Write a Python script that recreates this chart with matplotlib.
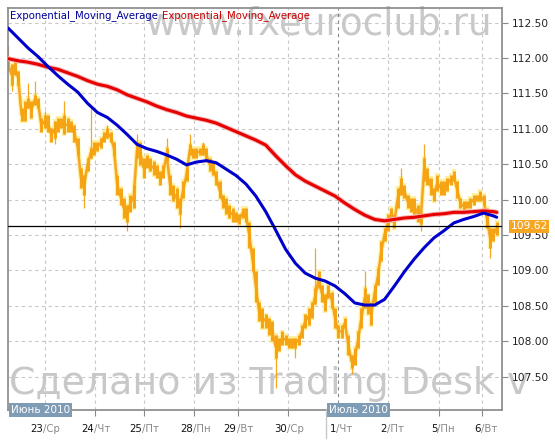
import matplotlib
matplotlib.use("Agg")
import matplotlib.pyplot as plt
import numpy as np

# ---------------- data ----------------
body_high = [
    112.00, 111.91, 111.95, 111.81, 111.29, 111.39, 111.44, 111.39, 111.48, 111.44,
    111.15, 111.20, 111.20, 111.01, 111.11, 111.15, 111.15, 111.20, 111.15, 111.11,
    111.06, 110.87, 110.45, 110.35, 110.59, 110.73, 110.82, 110.82, 110.87, 110.96,
    111.01, 110.96, 110.82, 110.35, 110.16, 110.02, 109.93, 110.07, 110.21,
    110.82, 110.82, 110.59, 110.63, 110.59, 110.54, 110.49, 110.40, 110.49, 110.73,
    110.35, 110.21, 110.16, 110.02, 110.26, 110.45, 110.78, 110.73, 110.73, 110.73,
    110.78, 110.73, 110.59, 110.54, 110.40, 110.26, 110.07, 110.02, 109.93, 109.88,
    109.83, 109.79, 109.88, 109.88, 109.69, 109.32, 108.99, 108.56,
    108.47, 108.38, 108.33, 108.28, 108.09, 108.05, 108.14, 108.09, 108.05, 108.05,
    108.05, 108.09, 108.23, 108.38, 108.47, 108.56, 108.75, 108.99, 108.80, 108.66,
    108.80, 108.70, 108.47, 108.23, 108.23, 108.33, 108.09, 107.81, 107.90, 108.14,
    108.47, 108.75, 108.66, 108.56, 108.80, 109.03, 109.41, 109.60,
    109.79, 109.88, 109.79, 110.16, 110.31, 110.21, 110.07, 110.02, 110.02, 109.93,
    109.83, 110.59, 110.45, 110.31, 110.16, 110.35, 110.26, 110.26, 110.31, 110.35,
    110.40, 110.26, 110.02, 109.98, 109.98, 110.02, 110.07, 110.07, 110.12, 110.07,
    109.88, 109.60, 109.60, 109.69,
]
body_low = [
    111.81, 111.62, 111.76, 111.62, 111.11, 111.11, 111.29, 111.15, 111.34, 111.29,
    110.96, 111.01, 110.96, 110.82, 110.87, 110.96, 111.01, 110.92, 110.96, 110.96,
    110.82, 110.63, 110.16, 110.07, 110.40, 110.59, 110.63, 110.68, 110.73, 110.82,
    110.87, 110.82, 110.63, 110.07, 109.93, 109.74, 109.69, 109.83, 109.88,
    110.59, 110.49, 110.31, 110.45, 110.40, 110.35, 110.31, 110.21, 110.31, 110.54,
    110.07, 109.98, 109.88, 109.79, 110.02, 110.26, 110.63, 110.59, 110.59, 110.63,
    110.63, 110.54, 110.40, 110.35, 110.21, 110.02, 109.88, 109.79, 109.74, 109.69,
    109.69, 109.65, 109.74, 109.69, 109.32, 108.99, 108.56, 108.28,
    108.19, 108.19, 108.09, 108.00, 107.76, 107.86, 107.95, 107.95, 107.90, 107.90,
    107.90, 107.95, 108.05, 108.19, 108.23, 108.33, 108.52, 108.75, 108.56, 108.42,
    108.61, 108.47, 108.19, 108.05, 108.05, 108.19, 107.81, 107.62, 107.67, 107.90,
    108.19, 108.47, 108.38, 108.23, 108.56, 108.80, 109.13, 109.41,
    109.55, 109.69, 109.60, 109.88, 110.07, 110.02, 109.88, 109.83, 109.79, 109.69,
    109.65, 110.26, 110.21, 110.07, 109.98, 110.12, 110.07, 110.07, 110.12, 110.21,
    110.26, 110.02, 109.88, 109.83, 109.88, 109.88, 109.93, 109.98, 109.98, 109.93,
    109.60, 109.32, 109.41, 109.50,
]
spike_bar = [0, 1, 6, 8, 11, 14, 17, 23, 25, 30, 36, 39, 48, 52, 55, 59,
             81, 87, 93, 104, 108, 119, 125, 126, 146]
spike_price = [112.17, 111.53, 111.65, 111.67, 111.25, 110.78, 111.39, 109.88,
               111.29, 111.06, 109.55, 110.92, 110.87, 109.60, 110.92, 110.82,
               107.34, 107.76, 109.32, 107.53, 108.99, 110.45, 109.55, 110.78, 109.18]

ema_bar = list(range(0, 148, 3)) + [148]
ema_fast = [
    112.42, 112.28, 112.14, 112.02, 111.88, 111.75, 111.63, 111.52, 111.36, 111.23,
    111.16, 111.05, 110.92, 110.78, 110.72, 110.68, 110.63, 110.57, 110.49, 110.53,
    110.55, 110.52, 110.43, 110.34, 110.22, 110.05, 109.83, 109.57, 109.30, 109.10,
    108.96, 108.89, 108.85, 108.78, 108.67, 108.54, 108.51, 108.51, 108.59, 108.78,
    108.98, 109.16, 109.32, 109.46, 109.56, 109.67, 109.72, 109.76, 109.81, 109.77,
    109.75,
]
ema_slow = [
    111.99, 111.96, 111.94, 111.91, 111.87, 111.84, 111.79, 111.74, 111.68, 111.63,
    111.60, 111.55, 111.48, 111.43, 111.38, 111.32, 111.27, 111.23, 111.18, 111.15,
    111.12, 111.08, 111.02, 110.96, 110.90, 110.84, 110.77, 110.62, 110.48, 110.35,
    110.26, 110.19, 110.12, 110.05, 109.95, 109.86, 109.78, 109.72, 109.70, 109.72,
    109.74, 109.75, 109.77, 109.79, 109.80, 109.82, 109.82, 109.83, 109.84, 109.83,
    109.82,
]

day_start_bar = [11.1, 26.3, 41.1, 56.3, 69.6, 84.8, 99.9, 115.1, 130.5, 143.6]
day_numbers = ["23", "24", "25", "28", "29", "30", "1", "2", "5", "6"]
day_names = ["Ср", "Чт", "Пт", "Пн", "Вт", "Ср", "Чт", "Пт", "Пн", "Вт"]
month_labels = ["Июнь 2010", "Июль 2010"]
month_start_bar = [-0.1, 96.3]
last_price = 109.62
series_names = ["Exponential_Moving_Average", "Exponential_Moving_Average"]
price_ticks = [107.5, 108.0, 108.5, 109.0, 109.5, 110.0, 110.5, 111.0, 111.5, 112.0, 112.5]

# ---------------- figure ----------------
plt.rcParams["font.family"] = ["DejaVu Sans"]
fig = plt.figure(figsize=(5.55, 4.40), dpi=100)
fig.patch.set_facecolor("white")
ax = fig.add_axes([8 / 555, 30 / 440, 494 / 555, 402 / 440])
ax.set_xlim(-0.1, 149.6)
ax.set_ylim(107.028, 112.706)

GRID = "#c8c8c8"
for yv in price_ticks:
    ax.axhline(yv, color=GRID, lw=0.8, ls=(0, (3, 3)), zorder=0.6)
for d, num in zip(day_start_bar, day_numbers):
    col = "#888888" if num == "1" else GRID
    ax.axvline(d, color=col, lw=0.8, ls=(0, (3, 3)), zorder=0.6)

# watermarks
ax.text(0.279, 0.933, "www.fxeuroclub.ru", transform=ax.transAxes, fontsize=26.8,
        color="#c8c8c8", ha="left", va="baseline", zorder=0.5, clip_on=False)
ax.text(0.002, 0.0398, "Сделано из Trading Desk v", transform=ax.transAxes, fontsize=27.3,
        color="#c8c8c8", ha="left", va="baseline", zorder=0.5, clip_on=False)

# price bars
bars = np.arange(len(body_high))
hi = np.array(body_high)
lo = np.array(body_low)
mid = (hi + lo) / 2
ax.vlines(bars, lo - 0.025, hi + 0.025, color="#fff0a0", lw=3.2, zorder=1.8)
ax.plot(bars, mid, color="#fff0a0", lw=3.4, zorder=1.8)
sb = np.array(spike_bar)
sp = np.array(spike_price)
ax.vlines(sb, np.minimum(lo[sb], sp), np.maximum(hi[sb], sp), color="#f5a623", lw=0.9, zorder=2)
ax.plot(bars, mid, color="#f5a623", lw=1.8, zorder=2)
ax.vlines(bars, lo, hi, color="#f5a313", lw=2.1, zorder=2.1)

# EMAs
ax.plot(ema_bar, ema_slow, color="#f7b4b4", lw=3.6, zorder=2.6, solid_capstyle="round")
ax.plot(ema_bar, ema_slow, color="#e60000", lw=2.2, zorder=2.7, solid_capstyle="round")
ax.plot(ema_bar, ema_fast, color="#0000cc", lw=2.2, zorder=2.8, solid_capstyle="round")

# last price line
ax.axhline(last_price, color="black", lw=0.9, zorder=3)
ax.annotate(f"{last_price:.2f}", xy=(1, last_price), xycoords=("axes fraction", "data"),
            xytext=(8.5, 0), textcoords="offset pixels", ha="left", va="center",
            fontsize=7.7, color="white", annotation_clip=False, zorder=6,
            bbox=dict(boxstyle="square,pad=0.15", fc="#f5a623", ec="none"))

# axes styling
for s in ax.spines.values():
    s.set_color("#888888")
    s.set_linewidth(1.2)
ax.yaxis.tick_right()
ax.set_yticks(price_ticks)
ax.set_yticklabels([f"{v:.2f}" for v in price_ticks])
ax.tick_params(axis="y", length=4, color="#888888", labelsize=7.7, labelcolor="#222222", pad=3)
ax.set_xticks(day_start_bar)
ax.tick_params(axis="x", length=4, color="#888888", labelbottom=False)

# day labels (number in black, weekday in gray)
for d, num, nm in zip(day_start_bar, day_numbers, day_names):
    t = ax.annotate(num, xy=(d, 0), xycoords=("data", "axes fraction"),
                    xytext=(-1.5, -24), textcoords="offset pixels", ha="right", va="bottom",
                    fontsize=7.3, color="#111111", annotation_clip=False)
    ax.annotate("/" + nm, xy=(1, 0), xycoords=t, xytext=(0, 0), textcoords="offset pixels",
                ha="left", va="bottom", fontsize=7.3, color="#888888", annotation_clip=False)

# month labels
for j, (m, ms) in enumerate(zip(month_labels, month_start_bar)):
    ax.annotate(m, xy=(ms, 0), xycoords=("data", "axes fraction"), xytext=(3, 0),
                textcoords="offset pixels", ha="left", va="center", fontsize=7.5,
                color="white", annotation_clip=False, zorder=6,
                bbox=dict(boxstyle="square,pad=0.22", fc="#7f9cb6", ec="none"))
    if j > 0:
        ax.plot([ms, ms], [0, -0.07], transform=ax.get_xaxis_transform(), color="#c8c8c8",
                lw=1, clip_on=False, zorder=5)

# legend text
leg = ax.annotate(series_names[0], xy=(0, 1), xycoords="axes fraction", xytext=(2, -8),
                  textcoords="offset pixels", ha="left", va="center", fontsize=7.3,
                  color="#000099", zorder=6)
ax.annotate(series_names[1], xy=(1, 0.5), xycoords=leg, xytext=(4, 0),
            textcoords="offset pixels", ha="left", va="center", fontsize=7.3,
            color="#cc0000", zorder=6)

fig.savefig("out.png", dpi=100, facecolor="white")
